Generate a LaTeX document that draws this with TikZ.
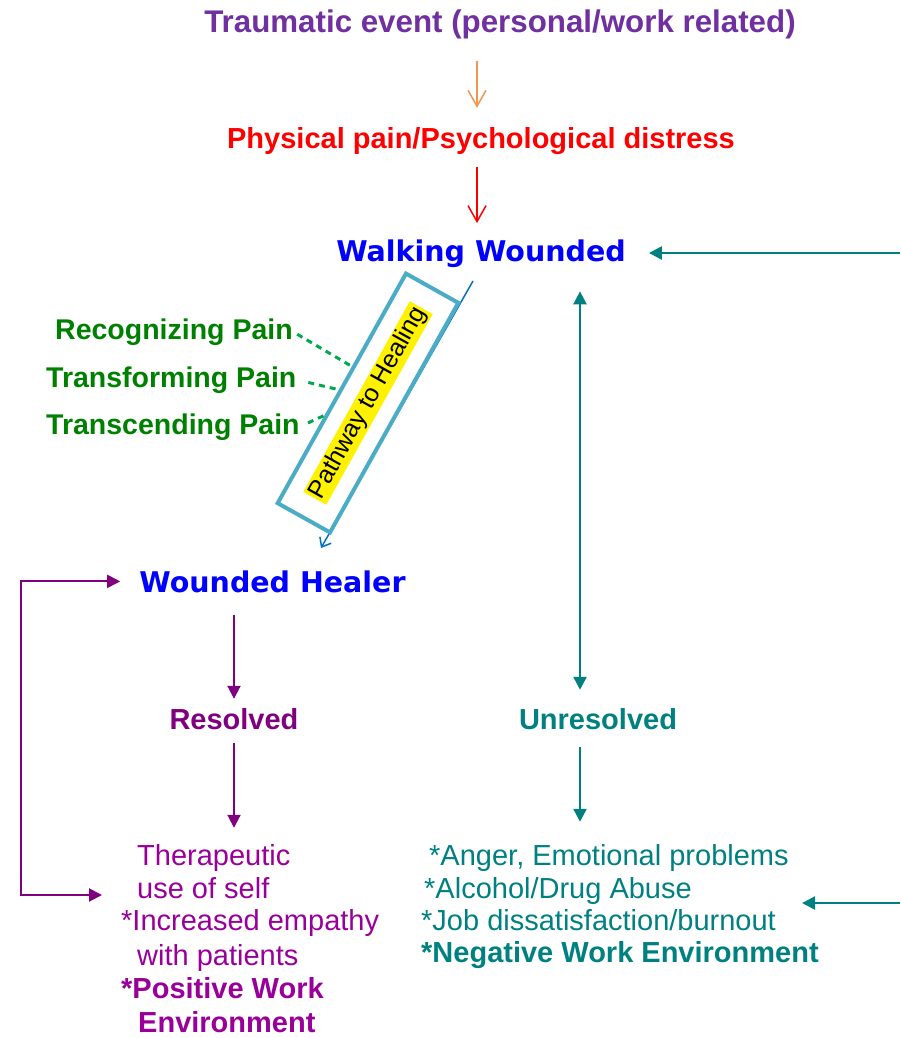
\documentclass[tikz,border=0pt]{standalone}
\usepackage{fontspec}
\setmainfont{Liberation Sans}
\newfontfamily\comicfont{DejaVu Sans}
\usetikzlibrary{arrows.meta, calc}
\definecolor{trpurple}{RGB}{112, 48, 160}
\definecolor{painred}{RGB}{255, 0, 0}
\definecolor{arrorange}{RGB}{242, 150, 80}
\definecolor{wblue}{RGB}{0, 0, 255}
\definecolor{unteal}{RGB}{0, 128, 128}
\definecolor{respurple}{RGB}{128, 0, 128}
\definecolor{listpurple}{RGB}{153, 0, 153}
\definecolor{stepgreen}{RGB}{0, 128, 0}
\definecolor{dashgreen}{RGB}{0, 168, 80}
\definecolor{boxblue}{RGB}{75, 172, 198}
\definecolor{linkblue}{RGB}{0, 112, 192}
\newcommand{\hdfont}[1]{\fontsize{#1}{#1}\selectfont}

\begin{document}
\begin{tikzpicture}[x=1pt, y=-1pt,
    lbl/.style={inner sep=0pt, anchor=base},
    lft/.style={inner sep=0pt, anchor=base west},
    openarr/.style={-{Straight Barb[length=16pt,width=18pt]}, line width=1.5pt},
    fillarr/.style={-{Triangle[length=13pt,width=13pt]}, line width=2pt},
    dblarr/.style={{Triangle[length=13pt,width=13pt]}-{Triangle[length=13pt,width=13pt]}, line width=2pt},
    thinarr/.style={-{Straight Barb[length=8pt,width=13pt]}, linkblue, line width=1.5pt},
    dashline/.style={dashgreen, line width=3pt, dash pattern=on 6pt off 5pt},
    pathbox/.style={draw=boxblue, line width=4pt, fill=white, rotate=60.8,
                    minimum width=263pt, minimum height=60pt, inner sep=0pt}]
  \useasboundingbox (0,0) rectangle (900,1038);

  % Top chain
  \node[lbl, font={\hdfont{31.3}\bfseries}, text=trpurple] (trauma) at (500,33) {Traumatic event (personal/work related)};
  \node[lbl, font={\hdfont{29}\bfseries}, text=painred] (pain) at (481,149) {Physical pain/Psychological distress};
  \node[lbl, font={\comicfont\hdfont{28.5}\bfseries}, text=wblue] (walk) at (481,261) {Walking Wounded};
  \coordinate (acol) at (477,0);
  \draw[openarr, arrorange, shorten <=21pt, shorten >=20pt] (trauma.south -| acol) -- (pain.north -| acol);
  \draw[openarr, painred, shorten <=12pt, shorten >=16pt] (pain.south -| acol) -- (walk.north -| acol);

  % Pathway to healing
  \coordinate (pstart) at (473,281);
  \coordinate (pend) at (321,548);
  \draw[thinarr] (pstart) -- (pend);
  \node[pathbox] (path) at (368,403)
    {{\setlength{\fboxsep}{1.5pt}\colorbox{yellow}{\hdfont{25}Pathway to Healing}}\hspace{16pt}};
  \node[lft, font={\hdfont{28.5}\bfseries}, text=stepgreen] (recog) at (55,339) {Recognizing Pain};
  \node[lft, font={\hdfont{28.5}\bfseries}, text=stepgreen] (transf) at (46,387) {Transforming Pain};
  \node[lft, font={\hdfont{28.5}\bfseries}, text=stepgreen] (transc) at (46,434) {Transcending Pain};
  \draw[dashline, shorten <=5pt] (recog.east) -- ($(path.north west)!0.59!(path.north east)$);
  \draw[dashline, shorten <=12pt] (transf.east) -- ($(path.north west)!0.49!(path.north east)$);
  \draw[dashline, shorten <=9pt] (transc.east) -- ($(path.north west)!0.38!(path.north east)$);

  % Resolved side
  \node[lbl, font={\comicfont\hdfont{28.5}\bfseries}, text=wblue] (heal) at (272.5,592) {Wounded Healer};
  \node[lbl, font={\hdfont{29}\bfseries}, text=respurple] (res) at (234,729) {Resolved};
  \foreach \i/\x/\y/\t in {1/137/865/Therapeutic, 2/137/898/use of self, 3/121/930/*Increased empathy,
      4/137/965/with patients, 5/121/998/{\bfseries *Positive Work}, 6/138/1032/{\bfseries Environment}} {
    \node[lft, font=\hdfont{29}, text=listpurple] (plist\i) at (\x,\y) {\t};
  }
  \draw[fillarr, respurple, shorten <=22pt, shorten >=9pt] (heal.south -| res) -- (res);
  \draw[fillarr, respurple, shorten <=14pt, shorten >=16pt] (res) -- (plist1.north -| res);
  \coordinate (pcol) at (21,0);
  \coordinate (pin) at (102,895);
  \draw[dblarr, respurple, shorten >=19pt] (pin) -| (heal.west -| pcol) -- (heal.west);

  % Unresolved side
  \node[lbl, font={\hdfont{29}\bfseries}, text=unteal] (unres) at (598,729) {Unresolved};
  \foreach \i/\x/\y/\t in {1/429/865/{*Anger, Emotional problems}, 2/424/898/{*Alcohol/Drug Abuse},
      3/421/930/{*Job dissatisfaction/burnout}, 4/421/962/{\bfseries *Negative Work Environment}} {
    \node[lft, font=\hdfont{29}, text=unteal] (ulist\i) at (\x,\y) {\t};
  }
  \coordinate (tcol) at (580,0);
  \draw[dblarr, unteal, line width=2.5pt, shorten <=24pt, shorten >=18pt] (walk.south -| tcol) -- (unres.north -| tcol);
  \draw[fillarr, unteal, line width=2.5pt, shorten <=18pt, shorten >=22pt] (unres.south -| tcol) -- (ulist1.north -| tcol);

  % Feedback arrows from the right
  \coordinate (rin1) at (900,253);
  \coordinate (rin2) at (900,903);
  \draw[fillarr, unteal, line width=2.5pt, shorten >=23pt] (rin1) -- (walk.east |- rin1);
  \draw[fillarr, unteal, line width=2.5pt, shorten >=26pt] (rin2) -- (ulist3.east |- rin2);
\end{tikzpicture}
\end{document}
